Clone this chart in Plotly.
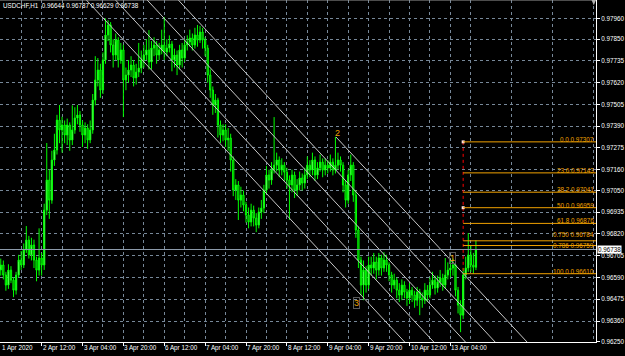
import plotly.graph_objects as go

# ---------------- data ----------------
symbol = "USDCHF,H1"
last_ohlc = [0.96644, 0.96787, 0.96629, 0.96738]
bid = 0.96738

opens = [
    0.96630, 0.96656, 0.96603, 0.96550, 0.96629, 0.96576, 0.96523, 0.96603, 0.96682, 0.96656,
    0.96735, 0.96788, 0.96709, 0.96762, 0.96682, 0.96629, 0.96693, 0.96656, 0.96946, 0.97105,
    0.96999, 0.97211, 0.97264, 0.97422, 0.97370, 0.97396, 0.97343, 0.97396, 0.97317, 0.97370,
    0.97433, 0.97449, 0.97396, 0.97343, 0.97380, 0.97317, 0.97370, 0.97528, 0.97634, 0.97687,
    0.97581, 0.97740, 0.97872, 0.97925, 0.97819, 0.97766, 0.97845, 0.97740, 0.97793, 0.97634,
    0.97660, 0.97687, 0.97713, 0.97645, 0.97676, 0.97697, 0.97740, 0.97766, 0.97793, 0.97729,
    0.97803, 0.97819, 0.97766, 0.97793, 0.97819, 0.97782, 0.97803, 0.97824, 0.97740, 0.97766,
    0.97713, 0.97793, 0.97750, 0.97819, 0.97835, 0.97856, 0.97819, 0.97872, 0.97845, 0.97888,
    0.97845, 0.97803, 0.97660, 0.97581, 0.97502, 0.97528, 0.97396, 0.97343, 0.97370, 0.97317,
    0.97327, 0.97211, 0.97052, 0.97079, 0.96999, 0.97026, 0.96973, 0.96920, 0.96883, 0.96946,
    0.96904, 0.96867, 0.96936, 0.96957, 0.97052, 0.97132, 0.97105, 0.97158, 0.97184, 0.97211,
    0.97158, 0.97184, 0.97147, 0.97105, 0.97079, 0.97132, 0.97052, 0.97079, 0.97116, 0.97089,
    0.97132, 0.97184, 0.97158, 0.97211, 0.97132, 0.97169, 0.97200, 0.97158, 0.97184, 0.97169,
    0.97200, 0.97158, 0.97184, 0.97211, 0.97184, 0.97079, 0.96999, 0.97132, 0.97184, 0.97026,
    0.96841, 0.96682, 0.96550, 0.96629, 0.96550, 0.96656, 0.96640, 0.96672, 0.96629, 0.96693,
    0.96640, 0.96682, 0.96656, 0.96603, 0.96550, 0.96576, 0.96523, 0.96497, 0.96550, 0.96513,
    0.96481, 0.96523, 0.96497, 0.96470, 0.96513, 0.96481, 0.96470, 0.96523, 0.96497, 0.96550,
    0.96576, 0.96534, 0.96566, 0.96587, 0.96550, 0.96603, 0.96629, 0.96640, 0.96656, 0.96523,
    0.96444, 0.96391, 0.96603, 0.96640, 0.96709, 0.96656, 0.96644,
]
highs = [
    0.96690, 0.96680, 0.96620, 0.96660, 0.96650, 0.96590, 0.96620, 0.96710, 0.96730, 0.96770,
    0.96862, 0.96810, 0.96800, 0.96790, 0.96700, 0.96850, 0.96720, 0.96980, 0.97301, 0.97160,
    0.97260, 0.97350, 0.97450, 0.97502, 0.97440, 0.97420, 0.97430, 0.97410, 0.97500, 0.97490,
    0.97502, 0.97470, 0.97420, 0.97410, 0.97400, 0.97420, 0.97560, 0.97760, 0.97750, 0.97720,
    0.97780, 0.97960, 0.97950, 0.97940, 0.97850, 0.97880, 0.97860, 0.97830, 0.97820, 0.97700,
    0.97740, 0.97760, 0.97740, 0.97720, 0.97830, 0.97790, 0.97820, 0.97850, 0.97898, 0.97840,
    0.97860, 0.97840, 0.97830, 0.97900, 0.97967, 0.97850, 0.97870, 0.97840, 0.97800, 0.97790,
    0.97820, 0.97830, 0.97850, 0.97870, 0.97900, 0.97880, 0.97910, 0.97925, 0.97920, 0.97910,
    0.97860, 0.97820, 0.97690, 0.97600, 0.97560, 0.97540, 0.97420, 0.97400, 0.97400, 0.97380,
    0.97350, 0.97230, 0.97110, 0.97100, 0.97070, 0.97050, 0.96990, 0.96960, 0.96980, 0.96970,
    0.96930, 0.96960, 0.97000, 0.97080, 0.97180, 0.97160, 0.97200, 0.97438, 0.97250, 0.97230,
    0.97220, 0.97200, 0.97170, 0.97130, 0.97160, 0.97150, 0.97110, 0.97150, 0.97140, 0.97170,
    0.97230, 0.97210, 0.97250, 0.97230, 0.97200, 0.97240, 0.97220, 0.97220, 0.97210, 0.97240,
    0.97220, 0.97333, 0.97250, 0.97230, 0.97200, 0.97100, 0.97160, 0.97240, 0.97200, 0.97050,
    0.96860, 0.96700, 0.96680, 0.96650, 0.96700, 0.96700, 0.96720, 0.96700, 0.96720, 0.96710,
    0.96724, 0.96710, 0.96670, 0.96620, 0.96610, 0.96590, 0.96560, 0.96580, 0.96570, 0.96530,
    0.96560, 0.96540, 0.96520, 0.96540, 0.96530, 0.96510, 0.96560, 0.96550, 0.96590, 0.96620,
    0.96600, 0.96600, 0.96630, 0.96610, 0.96693, 0.96670, 0.96680, 0.96690, 0.96670, 0.96540,
    0.96470, 0.96640, 0.96700, 0.96825, 0.96760, 0.96720, 0.96787,
]
lows = [
    0.96600, 0.96580, 0.96520, 0.96530, 0.96560, 0.96486, 0.96500, 0.96590, 0.96630, 0.96640,
    0.96720, 0.96690, 0.96680, 0.96640, 0.96570, 0.96600, 0.96600, 0.96630, 0.96920, 0.96900,
    0.96980, 0.97180, 0.97240, 0.97300, 0.97250, 0.97300, 0.97290, 0.97260, 0.97290, 0.97350,
    0.97400, 0.97360, 0.97280, 0.97300, 0.97270, 0.97300, 0.97350, 0.97500, 0.97600, 0.97540,
    0.97560, 0.97720, 0.97840, 0.97780, 0.97700, 0.97740, 0.97700, 0.97720, 0.97438, 0.97580,
    0.97620, 0.97650, 0.97600, 0.97610, 0.97650, 0.97670, 0.97700, 0.97740, 0.97690, 0.97690,
    0.97760, 0.97720, 0.97740, 0.97770, 0.97740, 0.97760, 0.97780, 0.97680, 0.97700, 0.97660,
    0.97690, 0.97700, 0.97730, 0.97790, 0.97810, 0.97790, 0.97800, 0.97810, 0.97830, 0.97800,
    0.97760, 0.97620, 0.97540, 0.97450, 0.97460, 0.97330, 0.97301, 0.97310, 0.97280, 0.97260,
    0.97150, 0.97020, 0.97000, 0.96894, 0.96960, 0.96940, 0.96880, 0.96850, 0.96860, 0.96860,
    0.96830, 0.96850, 0.96900, 0.96930, 0.97030, 0.97060, 0.97080, 0.97140, 0.97150, 0.97120,
    0.97130, 0.97100, 0.97060, 0.96894, 0.97040, 0.97010, 0.97020, 0.97050, 0.97050, 0.97060,
    0.97110, 0.97120, 0.97130, 0.97100, 0.97110, 0.97150, 0.97120, 0.97130, 0.97140, 0.97150,
    0.97130, 0.97140, 0.97160, 0.97150, 0.97040, 0.96960, 0.96980, 0.97100, 0.96990, 0.96800,
    0.96640, 0.96497, 0.96470, 0.96510, 0.96530, 0.96600, 0.96610, 0.96580, 0.96600, 0.96600,
    0.96620, 0.96620, 0.96570, 0.96510, 0.96530, 0.96480, 0.96460, 0.96470, 0.96480, 0.96440,
    0.96450, 0.96460, 0.96430, 0.96440, 0.96391, 0.96430, 0.96450, 0.96460, 0.96480, 0.96530,
    0.96500, 0.96510, 0.96540, 0.96520, 0.96530, 0.96580, 0.96590, 0.96600, 0.96490, 0.96400,
    0.96301, 0.96370, 0.96580, 0.96620, 0.96620, 0.96610, 0.96629,
]
closes = [
    0.96656, 0.96603, 0.96550, 0.96629, 0.96576, 0.96523, 0.96603, 0.96682, 0.96656, 0.96735,
    0.96788, 0.96709, 0.96762, 0.96682, 0.96629, 0.96693, 0.96656, 0.96946, 0.97105, 0.96999,
    0.97211, 0.97264, 0.97422, 0.97370, 0.97396, 0.97343, 0.97396, 0.97317, 0.97370, 0.97433,
    0.97449, 0.97396, 0.97343, 0.97380, 0.97317, 0.97370, 0.97528, 0.97634, 0.97687, 0.97581,
    0.97740, 0.97872, 0.97925, 0.97819, 0.97766, 0.97845, 0.97740, 0.97793, 0.97634, 0.97660,
    0.97687, 0.97713, 0.97645, 0.97676, 0.97697, 0.97740, 0.97766, 0.97793, 0.97729, 0.97803,
    0.97819, 0.97766, 0.97793, 0.97819, 0.97782, 0.97803, 0.97824, 0.97740, 0.97766, 0.97713,
    0.97793, 0.97750, 0.97819, 0.97835, 0.97856, 0.97819, 0.97872, 0.97845, 0.97888, 0.97845,
    0.97803, 0.97660, 0.97581, 0.97502, 0.97528, 0.97396, 0.97343, 0.97370, 0.97317, 0.97327,
    0.97211, 0.97052, 0.97079, 0.96999, 0.97026, 0.96973, 0.96920, 0.96883, 0.96946, 0.96904,
    0.96867, 0.96936, 0.96957, 0.97052, 0.97132, 0.97105, 0.97158, 0.97184, 0.97211, 0.97158,
    0.97184, 0.97147, 0.97105, 0.97079, 0.97132, 0.97052, 0.97079, 0.97116, 0.97089, 0.97132,
    0.97184, 0.97158, 0.97211, 0.97132, 0.97169, 0.97200, 0.97158, 0.97184, 0.97169, 0.97200,
    0.97158, 0.97184, 0.97211, 0.97184, 0.97079, 0.96999, 0.97132, 0.97184, 0.97026, 0.96841,
    0.96682, 0.96550, 0.96629, 0.96550, 0.96656, 0.96640, 0.96672, 0.96629, 0.96693, 0.96640,
    0.96682, 0.96656, 0.96603, 0.96550, 0.96576, 0.96523, 0.96497, 0.96550, 0.96513, 0.96481,
    0.96523, 0.96497, 0.96470, 0.96513, 0.96481, 0.96470, 0.96523, 0.96497, 0.96550, 0.96576,
    0.96534, 0.96566, 0.96587, 0.96550, 0.96603, 0.96629, 0.96640, 0.96656, 0.96523, 0.96444,
    0.96391, 0.96603, 0.96640, 0.96709, 0.96656, 0.96644, 0.96738,
]
bars = list(range(len(closes)))

date_labels = ["1 Apr 2020", "2 Apr 12:00", "3 Apr 04:00", "3 Apr 20:00", "6 Apr 12:00",
               "7 Apr 04:00", "7 Apr 20:00", "8 Apr 12:00", "9 Apr 04:00", "9 Apr 20:00",
               "10 Apr 12:00", "13 Apr 04:00"]
label_bars = [0, 16, 32, 48, 64, 80, 96, 112, 128, 144, 160, 176]

y_ticks = [0.97960, 0.97850, 0.97735, 0.97620, 0.97505, 0.97390, 0.97275, 0.97160,
           0.97050, 0.96935, 0.96820, 0.96705, 0.96590, 0.96475, 0.96360, 0.96250]
y_tick_text = ["0.97960", "0.97850", "0.97735", "0.97620", "0.97505", "0.97390", "0.97275",
               "0.97160", "0.97050", "0.96935", "0.96820", "0.96705", "0.96590", "0.96475",
               "0.96360", "0.96250"]

fib_names = ["0.0", "23.6", "38.2", "50.0", "61.8", "0.750", "0.786", "100.0"]
fib_prices = [0.97307, 0.97143, 0.97041, 0.96959, 0.96876, 0.96784, 0.96759, 0.96610]
fib_bar = 181

channel_start_bars = [33.5, 44.9, 57.3, 69.5, 131.2]
channel_start_prices = [0.98057, 0.98057, 0.98057, 0.98057, 0.97333]
channel_end_bars = [158.1, 169.5, 181.9, 193.5, 206.0]
channel_end_prices = [0.96249, 0.96249, 0.96249, 0.96249, 0.96249]

wave_labels = ["1", "2", "3"]
wave_bars = [177.0, 132.0, 139.4]
wave_prices = [0.96693, 0.97354, 0.96455]

x_range = [-0.3, 233.0]
y_range = [0.96249, 0.98057]

# ---------------- styling ----------------
FONT = "Liberation Sans"
FS = 6.3
GRID = "#778899"
ORANGE = "#F0A000"
CHAN = "#C8C8C8"

fig = go.Figure()

# channel lines
for xs, ps, xe, pe in zip(channel_start_bars, channel_start_prices, channel_end_bars, channel_end_prices):
    fig.add_trace(go.Scatter(x=[xs, xe], y=[ps, pe], mode="lines",
                             line=dict(color=CHAN, width=1), hoverinfo="skip", showlegend=False))

fig.add_trace(go.Candlestick(
    x=bars, open=opens, high=highs, low=lows, close=closes,
    increasing=dict(line=dict(color="#00FF00", width=1), fillcolor="#B8FFB8"),
    decreasing=dict(line=dict(color="#00FF00", width=1), fillcolor="#006A00"),
    whiskerwidth=0, showlegend=False, hoverinfo="skip"))

# fibo red trend line + anchors
fig.add_trace(go.Scatter(x=[fib_bar, fib_bar], y=[fib_prices[0], fib_prices[-1]], mode="lines",
                         line=dict(color="#FF0000", width=1, dash="dot"),
                         hoverinfo="skip", showlegend=False))
fig.add_trace(go.Scatter(x=[fib_bar, fib_bar], y=[fib_prices[0], fib_prices[3]], mode="markers",
                         marker=dict(symbol="square", size=3, color="#FFE0E0"),
                         hoverinfo="skip", showlegend=False))

shapes = []
annotations = []

# bid line
shapes.append(dict(type="line", xref="paper", x0=0, x1=1, yref="y", y0=bid, y1=bid,
                   line=dict(color="#8C9AAA", width=1), layer="above"))
# top border
shapes.append(dict(type="line", xref="paper", x0=0, x1=1, yref="paper", y0=1, y1=1,
                   line=dict(color="#9A9A9A", width=1)))
# chart-shift marker (small grey triangle at top right)
shapes.append(dict(type="path", xref="paper", yref="paper",
                   path="M 0.9925 1 L 1.0 1 L 0.99625 0.985 Z",
                   fillcolor="#B0B0B0", line=dict(width=0)))

# fib levels (label shifts keep the two close levels readable)
label_shift = {"0.750": 2, "0.786": -4}
for name, price in zip(fib_names, fib_prices):
    shapes.append(dict(type="line", xref="x", x0=fib_bar, x1=x_range[1], yref="y", y0=price, y1=price,
                       line=dict(color=ORANGE, width=1), layer="above"))
    annotations.append(dict(x=x_range[1], y=price, xref="x", yref="y", xanchor="right", yanchor="bottom",
                            text=f"{name} {price:.5f}", showarrow=False, xshift=-1,
                            yshift=label_shift.get(name, -2),
                            font=dict(family=FONT, size=FS, color=ORANGE), borderpad=0))

# wave labels
for t, b, p in zip(wave_labels, wave_bars, wave_prices):
    annotations.append(dict(x=b, y=p, xref="x", yref="y", text=t, showarrow=False,
                            font=dict(family=FONT, size=9, color=ORANGE),
                            bordercolor="#5A5A5A" if t != "2" else "rgba(0,0,0,0)",
                            borderwidth=1, borderpad=0))

# date labels
for lbl, b in zip(date_labels, label_bars):
    annotations.append(dict(x=b, y=0, xref="x", yref="paper", xanchor="left", yanchor="top",
                            text=lbl, showarrow=False, yshift=-1, borderpad=0,
                            font=dict(family=FONT, size=FS, color="white")))

# header
annotations.append(dict(x=0, y=1, xref="paper", yref="paper", xanchor="left", yanchor="top",
                        xshift=2, yshift=-1, showarrow=False, borderpad=0,
                        text=symbol + "  " + " ".join(f"{v:.5f}" for v in last_ohlc),
                        font=dict(family=FONT, size=FS, color="white")))

# current price label on the axis
annotations.append(dict(x=1, y=bid, xref="paper", yref="y", xanchor="left", yanchor="middle",
                        xshift=1, showarrow=False, text=f"{bid:.5f}", bgcolor="white", borderpad=0,
                        font=dict(family=FONT, size=FS, color="black")))

fig.update_layout(
    width=625, height=356,
    margin=dict(l=0, r=27, t=0, b=14),
    paper_bgcolor="black", plot_bgcolor="black",
    shapes=shapes, annotations=annotations,
    showlegend=False,
    xaxis=dict(range=x_range, rangeslider=dict(visible=False),
               tickvals=label_bars[1:], showticklabels=False,
               ticks="outside", ticklen=3, tickcolor="white",
               showgrid=True, gridcolor=GRID, griddash="3px,3px", gridwidth=1,
               minor=dict(tick0=8, dtick=16, showgrid=True, gridcolor=GRID, griddash="3px,3px",
                          gridwidth=1, ticks=""),
               showline=True, linecolor="white", linewidth=1, zeroline=False, fixedrange=True),
    yaxis=dict(range=y_range, side="right", tickvals=y_ticks, ticktext=y_tick_text,
               tickfont=dict(family=FONT, size=FS, color="white"),
               ticks="outside", ticklen=3, tickcolor="white",
               showgrid=True, gridcolor=GRID, griddash="3px,3px", gridwidth=1,
               showline=True, linecolor="white", linewidth=1, zeroline=False, fixedrange=True),
)

fig.write_html("out.html")
